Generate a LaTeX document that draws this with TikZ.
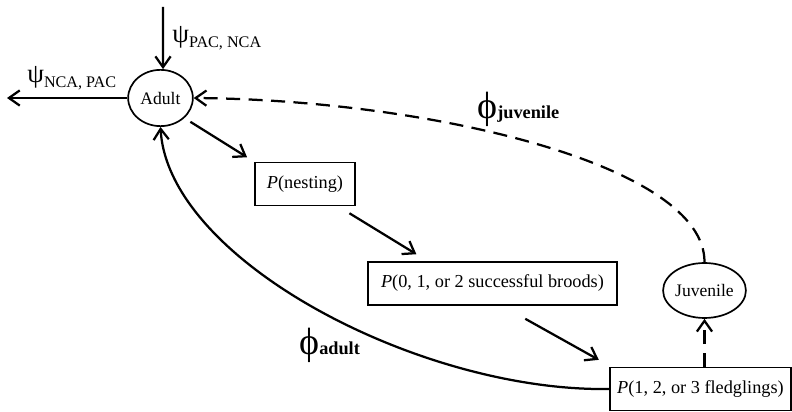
\documentclass[tikz,border=0pt]{standalone}
\usepackage{fontspec}
\setmainfont{Liberation Serif}
\usepackage{tikz}
\usetikzlibrary{shapes.geometric,arrows.meta}
\tikzset{>={Straight Barb[length=2.7mm,width=3.8mm]}}
\tikzset{stage node/.style={ellipse,draw,line width=1.2pt,inner sep=0pt,minimum width=46pt,minimum height=40pt,font=\fontsize{12.5}{13}\selectfont},
         prob node/.style={rectangle,draw,line width=1.2pt,inner sep=0pt,minimum height=30.5pt,font=\fontsize{13}{14}\selectfont},
         rate label/.style={anchor=base west,inner sep=0pt},
         flow/.style={line width=1.6pt},
         gapped/.style={dash pattern=on 10pt off 6pt},
            }
\newcommand{\psilab}[1]{{\fontsize{19}{19}\selectfont ψ}\raisebox{-3pt}{\fontsize{11.5}{12}\selectfont #1}}
\newcommand{\philab}[1]{{\fontsize{27}{27}\selectfont ϕ}{\fontsize{13}{14}\selectfont\bfseries #1}}

\begin{document}
\begin{tikzpicture}[x=0.025cm,y=-0.025cm]
    \useasboundingbox (0,0) rectangle (792,412);

    \node[stage node] (adult) at (160.5,98) {Adult};
    \node[stage node,minimum width=54.8pt,minimum height=39.1pt] (juv) at (704.5,290.5) {Juvenile};
    \node[prob node,minimum width=71pt] (nest) at (305,184) {\textit{P}(nesting)};
    \node[prob node,minimum width=177pt] (broods) at (492.5,283.5) {\textit{P}(0, 1, or 2 successful broods)};
    \node[prob node,minimum width=128.7pt] (fledg) at (700.5,389) {\textit{P}(1, 2, or 3 fledglings)};

    \coordinate (immig) at (163,7);
    \coordinate (emig) at (7,98);

    \path[flow,->]
    (immig) edge (adult.85)
    (adult.west) edge (emig)
    (adult.-40) edge[shorten <=5pt,shorten >=6pt] (nest.north west)
    (nest.-34) edge[shorten <=9.5pt,shorten >=9.5pt] (broods.161)
    (broods.-67) edge[shorten <=19pt,shorten >=10pt] (fledg.166);

    % survival back to adults
    \draw[flow,gapped,->] (juv.north) .. controls (705,165) and (430,100) .. (adult.east);
    \draw[flow,->] (fledg.west) .. controls (420,392) and (168,260) .. (adult.south);
    \draw[flow,gapped,->] (juv.south |- fledg.north) -- (juv.south);

    \node[rate label] (psiin) at (172,43) {\psilab{PAC, NCA}};
    \node[rate label] (psiout) at (27,83) {\psilab{NCA, PAC}};
    \node[rate label] (phijuv) at (477,119) {\philab{juvenile}};
    \node[rate label] (phiad) at (299,355) {\philab{adult}};

\end{tikzpicture}
\end{document}
